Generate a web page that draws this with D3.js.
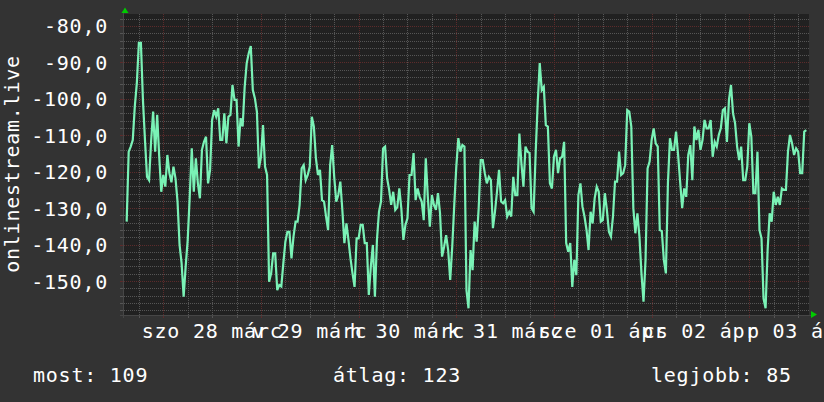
<!DOCTYPE html>
<html><head><meta charset="utf-8">
<script src="https://cdn.jsdelivr.net/npm/d3@7"></script>
<style>
html,body{margin:0;padding:0;background:#333333;}
svg{display:block;}
text{font-family:"DejaVu Sans Mono",monospace;font-size:20px;letter-spacing:0.76px;fill:#ffffff;}
</style>
</head><body>
<svg id="chart" width="824" height="402"></svg>
<script>
// ---------- data ----------
const seriesName = "onlinestream.live";
const startTime = "2020-03-27T15:00:00Z";
const stepMinutes = 30;
const values = [
-133.7,-114.5,-113.1,-111.3,-102.1,-95.7,-84.6,-84.6,-100.3,-111.3,
-121.4,-122.3,-111.8,-103.5,-114.5,-104.4,-115.9,-125.5,-120.9,-124.1,
-115.4,-120.4,-122.9,-118.6,-121.8,-128.2,-140.1,-145.1,-154.3,-146.0,
-138.7,-126.8,-113.6,-125.5,-116.3,-123.2,-127.3,-114.0,-111.8,-110.4,
-123.2,-119.5,-105.8,-103.1,-104.9,-102.6,-111.3,-111.3,-104.0,-112.2,
-104.9,-104.4,-96.2,-100.3,-100.3,-113.1,-105.3,-107.6,-96.7,-90.2,
-87.5,-85.5,-97.6,-99.8,-103.5,-119.1,-115.9,-107.2,-118.6,-120.9,
-150.2,-147.9,-142.4,-142.4,-152.5,-151.1,-151.5,-145.1,-139.2,-136.5,
-136.5,-143.8,-137.8,-133.7,
-133.7,-129.1,-119.1,-118.2,-122.3,-120.9,-118.6,-104.9,-107.6,-116.3,
-120.9,-119.5,-127.8,-128.2,-132.3,-136.0,-118.2,-112.7,-121.4,-128.2,
-126.4,-122.7,-130.5,-139.6,-134.2,-138.7,-143.8,-147.9,-151.6,-138.3,
-138.3,-134.6,-134.6,-139.6,-139.6,-153.8,-146.0,-140.1,-154.3,-138.7,
-131.0,-128.2,-113.6,-113.1,-121.8,-125.0,-129.1,-125.5,-130.5,-129.8,
-124.6,-130.2,-138.7,-134.6,-132.8,-120.9,-120.9,-114.9,-127.8,-124.6,
-126.9,-128.2,-133.3,-116.3,-126.9,-135.1,-126.4,-129.1,-130.5,-125.9,
-131.4,-143.3,-140.6,-137.4,-141.5,-149.7,-140.6,-129.1,-118.6,-110.8,
-114.5,-112.7,
-113.1,-152.5,-157.5,-141.5,-147.0,-133.7,-139.2,-130.0,-116.8,-116.8,
-120.4,-123.2,-121.4,-122.3,-135.5,-131.0,-125.5,-119.5,-128.2,-128.7,
-127.8,-132.3,-131.0,-132.3,-121.4,-126.4,-126.4,-109.5,-117.7,-124.1,
-113.1,-114.5,-114.9,-130.0,-131.0,-114.9,-101.2,-90.2,-97.6,-96.7,
-107.2,-107.6,-123.2,-124.6,-115.9,-114.0,-120.4,-116.3,-115.9,-111.8,
-139.6,-142.0,-139.6,-151.6,-144.2,-148.4,-126.4,-123.2,-129.6,-132.3,
-136.0,-141.5,-131.0,-134.2,-127.3,-124.1,-125.5,-133.7,-133.3,-125.9,
-130.5,-136.5,-137.8,-132.3,-122.7,-122.7,-114.5,-120.9,-120.4,-118.2,
-103.1,-103.5,-107.6,
-130.0,-136.9,-131.4,-137.8,-147.9,-155.7,-144.2,-119.1,-117.2,-111.3,
-108.1,-112.2,-113.1,-136.0,-136.3,-144.2,-147.9,-123.2,-110.8,-114.0,
-114.0,-109.0,-115.4,-122.7,-130.0,-124.6,-126.9,-115.4,-112.7,-122.3,
-107.6,-111.3,-108.5,-114.0,-111.3,-105.8,-108.1,-108.1,-105.8,-115.9,
-111.8,-113.1,-109.9,-108.1,-103.1,-102.6,-111.8,-100.3,-96.2,-104.0,
-106.7,-113.1,-116.8,-113.1,-122.3,-122.3,-118.6,-106.7,-110.4,-125.9,
-125.9,-114.5,-136.0,-138.3,-154.8,-157.5,-141.5,-131.4,-133.7,-125.5,
-129.1,-126.9,-129.1,-124.6,-125.0,-125.0,-114.5,-109.9,-112.2,-115.4,
-113.6,-114.5,-120.4,-120.4,-109.0,-108.6
];
const timeDomain = ["2020-03-27T14:06:00Z", "2020-04-03T14:40:00Z"];
const valueDomain = [-159.33, -76.71];
const yTickValues = [-80, -90, -100, -110, -120, -130, -140, -150];
const dayLabels = ["szo 28 márc", "v 29 márc", "h 30 márc", "k 31 márc", "sze 01 ápr", "cs 02 ápr", "p 03 ápr"];
const dayDates = ["2020-03-28", "2020-03-29", "2020-03-30", "2020-03-31", "2020-04-01", "2020-04-02", "2020-04-03"];
const legendNames = ["most", "átlag", "legjobb"];
const legendValues = [109, 123, 85];

// ---------- layout ----------
const L = 123, R = 809, T = 14, B = 315;
const svg = d3.select("#chart");
const huFmt = d3.formatLocale({decimal: ",", thousands: " ", grouping: [3], currency: ["", " Ft"], minus: "-"}).format(".1f");

const x = d3.scaleUtc().domain(timeDomain.map(d => new Date(d))).range([L, R]);
const y = d3.scaleLinear().domain(valueDomain).range([B, T]);

const t0 = new Date(startTime).getTime();
const points = values.map((v, i) => ({t: new Date(t0 + i * stepMinutes * 60000), v}));

const minorCol = "#555555", majorCol = "#5c2b2b";

// dotted patterns (pixel exact)
const defs = svg.append("defs");
function dotPattern(id, col, horiz) {
  const p = defs.append("pattern").attr("id", id).attr("patternUnits", "userSpaceOnUse")
    .attr("x", 0).attr("y", 0).attr("width", horiz ? 2 : 1).attr("height", horiz ? 1 : 2);
  p.append("rect").attr("x", 0).attr("y", 0).attr("width", 1).attr("height", 1).attr("fill", col);
}
dotPattern("hMin", minorCol, true);
dotPattern("hMaj", majorCol, true);
dotPattern("vMin", minorCol, false);
dotPattern("vMaj", majorCol, false);

svg.append("rect").attr("x", 0).attr("y", 0).attr("width", 824).attr("height", 402).attr("fill", "#333333");
svg.append("rect").attr("x", L).attr("y", T).attr("width", R - L).attr("height", B - T).attr("fill", "#212121");

const g = svg.append("g").attr("shape-rendering", "crispEdges");
const rowY = v => Math.round(y(v));
const colX = d => Math.round(x(d));

// horizontal grid
const hMinor = d3.range(-158, -76, 2).filter(v => v % 10 !== 0 && y(v) >= T && y(v) <= B);
g.selectAll(".hm").data(hMinor).join("rect")
  .attr("x", L).attr("width", R - L).attr("y", rowY).attr("height", 1).attr("fill", "url(#hMin)");
g.selectAll(".hM").data(yTickValues).join("rect")
  .attr("x", L).attr("width", R - L).attr("y", rowY).attr("height", 1).attr("fill", "url(#hMaj)");
g.selectAll(".htk").data(hMinor.concat(yTickValues)).join("rect")
  .attr("x", L - 3).attr("width", 3).attr("y", rowY).attr("height", 1)
  .attr("fill", d => d % 10 === 0 ? majorCol : minorCol);

// vertical grid
const [d0, d1] = x.domain();
const allHours = d3.utcHour.every(6).range(d0, d1);
const vMinor = allHours.filter(d => d.getUTCHours() !== 0);
const vMajor = allHours.filter(d => d.getUTCHours() === 0);
g.selectAll(".vm").data(vMinor).join("rect")
  .attr("x", colX).attr("width", 1).attr("y", T).attr("height", B - T).attr("fill", "url(#vMin)");
g.selectAll(".vM").data(vMajor).join("rect")
  .attr("x", colX).attr("width", 1).attr("y", T).attr("height", B - T).attr("fill", "url(#vMaj)");
g.selectAll(".vtk").data(allHours).join("rect")
  .attr("x", colX).attr("width", 1).attr("y", B).attr("height", 3)
  .attr("fill", d => d.getUTCHours() === 0 ? majorCol : minorCol);

// axis lines
g.append("rect").attr("x", L - 3).attr("width", R - L + 5).attr("y", B).attr("height", 1).attr("fill", "#464646");
g.append("rect").attr("x", L).attr("width", 1).attr("y", T - 2).attr("height", B - T + 5).attr("fill", "#464646");

// arrows
svg.append("path").attr("d", "M121.5,13 L128.5,13 L125,7.5 Z").attr("fill", "#00cc00");
svg.append("path").attr("d", "M811,311 L811,318 L817,314.5 Z").attr("fill", "#00cc00");

// line
const line = d3.line().x(d => x(d.t)).y(d => y(d.v)).curve(d3.curveLinear);
svg.append("path").datum(points).attr("d", line)
  .attr("fill", "none").attr("stroke", "#7af2b6").attr("stroke-width", 2.2).attr("stroke-linejoin", "miter");

// y tick labels
svg.selectAll(".yl").data(yTickValues).join("text")
  .attr("x", 108).attr("y", d => y(d) + 7.5).attr("text-anchor", "end").text(d => huFmt(d));

// y title
svg.append("text").attr("transform", "translate(18.5,164) rotate(-90)")
  .attr("text-anchor", "middle").text(seriesName);

// x labels at noon
svg.selectAll(".xl").data(dayDates).join("text")
  .attr("x", (d, i) => x(new Date(d + "T12:00:00Z")))
  .attr("y", 338).attr("text-anchor", "middle").text((d, i) => dayLabels[i]);

// legend
const legendX = [33, 333, 651];
svg.selectAll(".lg").data(legendNames).join("text")
  .attr("x", (d, i) => legendX[i]).attr("y", 382)
  .text((d, i) => d + ": " + legendValues[i]);
</script>
</body></html>
